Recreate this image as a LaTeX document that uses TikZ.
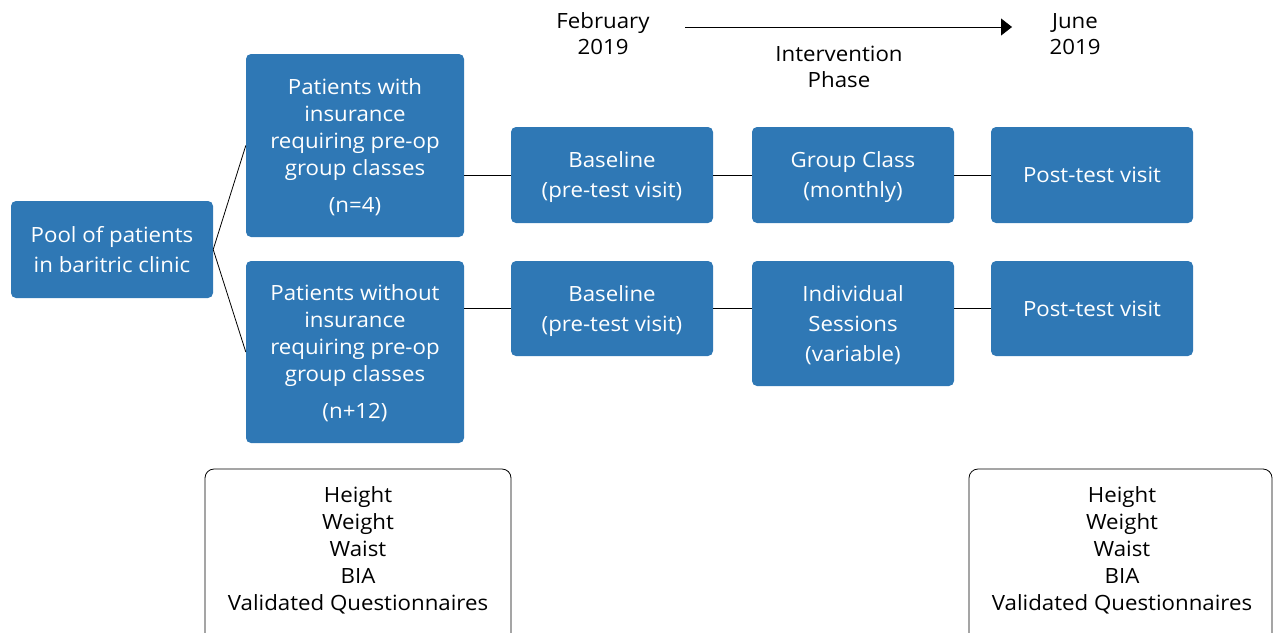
\documentclass[tikz,border=0pt]{standalone}
\usepackage{fontspec}
\setmainfont{Open Sans}[FakeStretch=1.06]
\usetikzlibrary{arrows.meta}
\definecolor{boxblue}{HTML}{2F78B5}
\begin{document}
\begin{tikzpicture}[x=1pt,y=-1pt,
  bluebox/.style={fill=boxblue, rounded corners=5pt, text=white, align=center, inner sep=0pt, text depth=0pt, font=\fontsize{21}{30}\selectfont},
  tallbox/.style={bluebox, font=\fontsize{21}{27}\selectfont},
  whitebox/.style={draw=black, line width=0.8pt, rounded corners=9pt, inner sep=0pt},
  plain/.style={align=center, inner sep=0pt, font=\fontsize{21}{26}\selectfont},
  listtext/.style={align=center, inner sep=0pt, font=\fontsize{21}{27}\selectfont},
  conn/.style={draw=black, line width=0.8pt}]
\useasboundingbox (0,0) rectangle (1273,632);

% timeline
\node[plain] (feb) at (603,34) {February\\2019};
\node[plain] (jun) at (1075,34) {June\\2019};
\node[plain] (phase) at (839,67) {Intervention\\Phase};
\coordinate (a1) at (685,27);
\coordinate (a2) at (1012,27);
\draw[conn, -{Triangle[length=11pt,width=17pt]}] (a1) -- (a2);

% blue boxes
\node[bluebox, minimum width=202, minimum height=97] (pool) at (112,249.5) {Pool of patients\\in baritric clinic};
\node[tallbox, minimum width=218, minimum height=183] (tl) at (355,145.5) {Patients with\\insurance\\requiring pre-op\\group classes\\[10pt](n=4)};
\node[tallbox, minimum width=218, minimum height=182] (bl) at (355,352) {Patients without\\insurance\\requiring pre-op\\group classes\\[10pt](n+12)};
\node[bluebox, minimum width=202, minimum height=96] (b1) at (612,175) {Baseline\\(pre-test visit)};
\node[bluebox, minimum width=202, minimum height=96] (g) at (853,175) {Group Class\\(monthly)};
\node[bluebox, minimum width=202, minimum height=96] (p1) at (1092,175) {Post-test visit};
\node[bluebox, minimum width=202, minimum height=95] (b2) at (612,308.5) {Baseline\\(pre-test visit)};
\node[bluebox, minimum width=202, minimum height=125] (ind) at (853,323.5) {Individual\\Sessions\\(variable)};
\node[bluebox, minimum width=202, minimum height=95] (p2) at (1092,308.5) {Post-test visit};

% connectors
\draw[conn] (pool.east) -- (tl.west);
\draw[conn] (pool.east) -- (bl.west);
\draw[conn] (tl.east |- b1.west) -- (b1.west);
\draw[conn] (b1.east) -- (g.west);
\draw[conn] (g.east) -- (p1.west);
\draw[conn] (bl.east |- b2.west) -- (b2.west);
\draw[conn] (b2.east) -- (ind.west |- b2.east);
\draw[conn] (ind.east |- p2.west) -- (p2.west);

% white boxes
\node[whitebox, minimum width=306, minimum height=180] (wl) at (358,559) {};
\node[listtext] (wlt) at (358,550) {Height\\Weight\\Waist\\BIA\\Validated Questionnaires};
\node[whitebox, minimum width=303, minimum height=180] (wr) at (1120.5,559) {};
\node[listtext] (wrt) at (1122,550) {Height\\Weight\\Waist\\BIA\\Validated Questionnaires};
\end{tikzpicture}
\end{document}
